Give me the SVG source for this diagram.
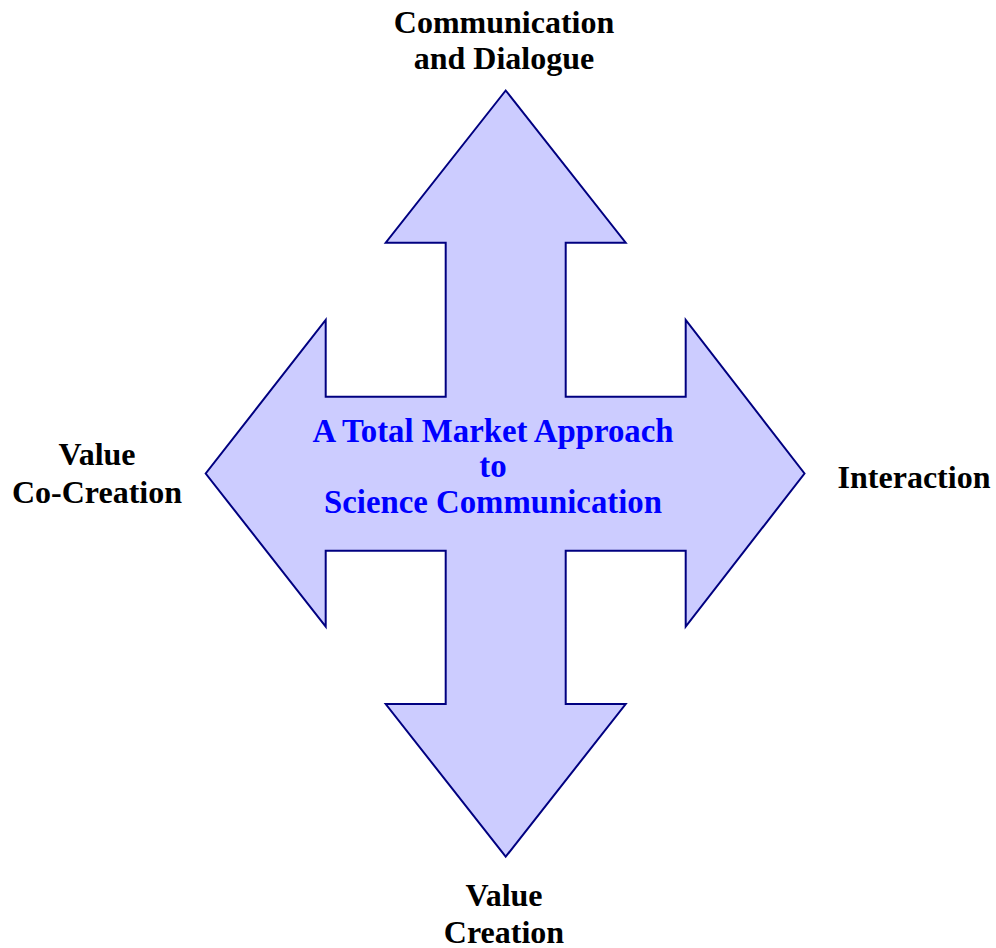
<svg xmlns="http://www.w3.org/2000/svg" width="996" height="948" viewBox="0 0 996 948">
<style>
.lbl{font-family:"Liberation Serif","Times New Roman",serif;font-weight:bold;font-size:32px;fill:#000;text-anchor:middle}
.ctr{font-family:"Liberation Serif","Times New Roman",serif;font-weight:bold;font-size:32.8px;fill:#0000ff;text-anchor:middle}
.arrow{fill:#ccccff;stroke:#000080;stroke-width:2;stroke-linejoin:miter}
</style>
<rect width="996" height="948" fill="#fff"/>
<g id="cross-arrow">
<path class="arrow" d="M505.7,90.5 L625.7,242.7 L565.7,242.7 L565.7,396.7 L685.7,396.7 L685.7,320 L804.5,473.5 L685.7,626.7 L685.7,550.7 L565.7,550.7 L565.7,704 L625.7,704 L505.7,856.7 L385.7,704 L445.7,704 L445.7,550.7 L325.7,550.7 L325.7,626.7 L205.7,473.5 L325.7,320 L325.7,396.7 L445.7,396.7 L445.7,242.7 L385.7,242.7 Z"/>
<text class="ctr" x="493" y="441.5">A Total Market Approach</text>
<text class="ctr" x="493" y="477">to</text>
<text class="ctr" x="493" y="512.5">Science Communication</text>
</g>
<g id="top-label">
<text class="lbl" x="504" y="33">Communication</text>
<text class="lbl" x="504" y="69">and Dialogue</text>
</g>
<g id="left-label">
<text class="lbl" x="97" y="465">Value</text>
<text class="lbl" x="97" y="503">Co-Creation</text>
</g>
<g id="right-label">
<text class="lbl" x="914" y="488">Interaction</text>
</g>
<g id="bottom-label">
<text class="lbl" x="504" y="906">Value</text>
<text class="lbl" x="504" y="943">Creation</text>
</g>
<g id="connectors"/>
</svg>
